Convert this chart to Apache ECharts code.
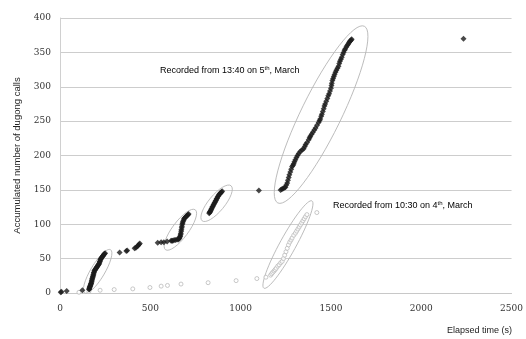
<!DOCTYPE html>
<html>
<head>
<meta charset="utf-8">
<script src="https://cdn.jsdelivr.net/npm/echarts@6/dist/echarts.min.js"></script>
<style>html,body{margin:0;padding:0;background:#fff;}#c{width:526px;height:339px;}</style>
</head>
<body>
<div id="c"></div>
<script>
// ---- data ----
var yTicks = [0, 50, 100, 150, 200, 250, 300, 350, 400];
var xTicks = [0, 500, 1000, 1500, 2000, 2500];

// Recorded from 13:40 on 5th March  [elapsed s, accumulated calls]
var march5 = [
  [4,1],[8,2],[37,3],[124,4],
  [161,5],[162,6],[163,7],[164,8],[165,9],[167,10],[168,11],[170,12],[171,13],[172,14],[174,15],[175,17],[176,18],[178,20],[179,21],[181,23],[182,24],[184,26],[185,27],[187,29],[188,30],[190,32],
  [192,33],[195,34],[197,35],[200,36],[202,37],[205,38],[207,39],[210,40],[212,41],[215,42],[217,43],[219,45],[221,46],[223,48],[225,49],[227,50],[229,51],[232,52],[235,53],[238,54],[240,55],[243,56],[246,57],[250,58],
  [330,59],[367,61],[372,62],[413,65],[420,66],[428,68],[433,69],[438,71],[442,72],
  [541,73],[560,74],[575,74],[593,75],
  [615,76],[620,76],[625,76],[632,77],[640,77],[648,78],[655,78],[659,79],[662,80],[664,82],[666,83],[668,85],[669,87],[671,90],[672,92],[674,95],[675,97],[677,100],[679,102],[681,104],[684,106],[687,108],[690,109],[694,110],[697,111],[701,112],[705,113],[709,114],[712,115],
  [826,116],[828,117],[830,118],[832,119],[835,120],[837,122],[840,123],[843,125],[846,126],[849,128],[852,129],[855,131],[858,132],[861,134],[864,135],[867,137],[870,138],[873,140],[877,141],[880,143],[884,144],[887,145],[891,146],[894,147],[898,148],
  [1101,149],
  [1221,150],[1228,151],[1235,152],[1242,153],[1248,154],[1253,157],[1258,160],[1262,164],[1266,168],[1270,172],[1275,176],[1280,180],[1285,184],[1290,186],[1294,188],[1298,191],[1303,194],[1309,197],[1315,200],[1322,203],[1330,206],
  [1340,208],[1349,210],[1355,213],[1360,216],[1368,219],[1377,223],[1382,226],[1386,228],[1393,231],[1400,234],[1408,237],[1415,240],[1423,244],[1432,248],[1437,251],[1441,253],[1446,257],[1450,260],[1455,264],[1460,268],[1464,272],[1468,275],
  [1474,279],[1480,283],[1485,287],[1490,290],[1495,294],[1500,298],[1503,302],[1505,305],[1508,309],[1512,312],[1516,315],[1520,318],[1525,321],[1530,324],[1536,327],[1542,330],[1546,334],[1550,337],[1555,340],[1560,343],[1565,347],[1570,350],
  [1575,353],[1579,355],[1585,358],[1590,360],[1595,362],[1600,364],[1604,366],[1608,367],[1612,368],[1615,369],
  [2234,370]
];

// Recorded from 10:30 on 4th March
var march4 = [
  [105,1],[160,2],[222,4],[300,5],[403,6],[498,8],[560,10],[595,11],[670,13],[820,15],[975,18],[1090,21],[1140,23],
  [1166,26],[1172,28],[1178,30],[1185,32],[1191,34],[1197,36],[1205,39],[1213,41],[1222,44],[1230,46],[1237,50],[1244,55],
  [1251,60],[1258,65],[1265,70],[1272,74],[1279,77],[1285,80],[1294,84],[1303,87],[1310,90],[1317,93],[1324,96],[1331,99],
  [1338,102],[1345,105],[1352,108],[1359,111],[1367,114],[1422,117]
];

// annotation ellipses: major-axis end points in data units [x1,y1,x2,y2]
var ellipseEnds = [
  [137, 0, 280, 63],
  [584, 63, 749, 121],
  [787, 105, 947, 156],
  [1206, 131, 1685, 388],
  [1129, 7, 1395, 134]
];
var ellipseHalfWidth = [7, 8, 8, 20, 8];

var labelMarch5 = ['Recorded from 13:40 on 5', 'th', ', March'];
var labelMarch4 = ['Recorded from 10:30 on 4', 'th', ', March'];
var xName = 'Elapsed time (s)';
var yName = 'Accumulated number of dugong calls';

// ---- chart ----
var chart = echarts.init(document.getElementById('c'), null, {renderer: 'canvas'});
var serif = 'DejaVu Serif';
var sans = 'Liberation Sans';
var richSup = {
  a: {fontFamily: sans, fontSize: 9, color: '#222'},
  s: {fontFamily: sans, fontSize: 6, color: '#222', padding: [0, 0, 5, 0]}
};
function richText(parts) {
  return '{a|' + parts[0] + '}{s|' + parts[1] + '}{a|' + parts[2] + '}';
}

var option = {
  animation: false,
  backgroundColor: '#fff',
  grid: {left: 60, right: 12, top: 18, bottom: 46},
  xAxis: {
    type: 'value', min: xTicks[0], max: xTicks[xTicks.length - 1], interval: 500,
    axisLine: {show: true, lineStyle: {color: '#c8c8c8'}},
    axisTick: {show: false},
    splitLine: {show: false},
    axisLabel: {fontFamily: serif, fontSize: 9, color: '#333', margin: 11,
      formatter: function (v) { return String(v); }}
  },
  yAxis: {
    type: 'value', min: yTicks[0], max: yTicks[yTicks.length - 1], interval: 50,
    name: yName, nameLocation: 'middle', nameGap: 38,
    nameTextStyle: {fontFamily: sans, fontSize: 9.5, color: '#222'},
    axisLine: {show: true, lineStyle: {color: '#d0d0d0'}},
    axisTick: {show: false},
    splitLine: {show: true, lineStyle: {color: '#cdcdcd', width: 1}},
    axisLabel: {fontFamily: serif, fontSize: 9, color: '#333', margin: 9,
      formatter: function (v) { return String(v); }}
  },
  graphic: [
    {type: 'text', x: 160, y: 71, style: {text: richText(labelMarch5), rich: richSup, verticalAlign: 'middle'}},
    {type: 'text', x: 333, y: 206, style: {text: richText(labelMarch4), rich: richSup, verticalAlign: 'middle'}},
    {type: 'text', x: 512, y: 331, style: {text: xName, fontFamily: sans, fontSize: 9, fill: '#222', align: 'right', verticalAlign: 'middle'}}
  ],
  series: [
    {
      type: 'custom', name: 'ellipses', silent: true, z: 1,
      data: ellipseEnds,
      encode: {x: [0, 2], y: [1, 3]},
      renderItem: function (params, api) {
        var p1 = api.coord([api.value(0), api.value(1)]);
        var p2 = api.coord([api.value(2), api.value(3)]);
        var dx = p2[0] - p1[0], dy = p2[1] - p1[1];
        var a = Math.sqrt(dx * dx + dy * dy) / 2;
        var ang = Math.atan2(dy, dx);
        return {
          type: 'ellipse',
          x: (p1[0] + p2[0]) / 2, y: (p1[1] + p2[1]) / 2,
          rotation: -ang,
          shape: {cx: 0, cy: 0, rx: a, ry: ellipseHalfWidth[params.dataIndex]},
          style: {fill: 'none', stroke: '#b4b4b4', lineWidth: 0.8}
        };
      }
    },
    {
      type: 'scatter', name: '4th March', data: march4, z: 2,
      symbol: 'circle', symbolSize: 4,
      itemStyle: {color: '#fff', borderColor: '#bababa', borderWidth: 1}
    },
    {
      type: 'scatter', name: '5th March', data: march5, z: 3,
      symbol: 'diamond', symbolSize: 6,
      itemStyle: {color: '#1c1c1c'}
    }
  ]
};
chart.setOption(option);
</script>
</body>
</html>
